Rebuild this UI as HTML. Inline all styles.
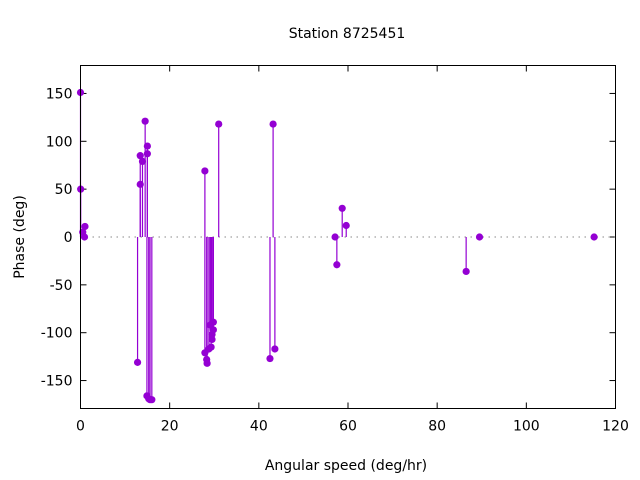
<!DOCTYPE html>
<html><head><meta charset="utf-8"><style>
body{margin:0;background:#fff}
svg{display:block;font-family:"DejaVu Sans","Liberation Sans",sans-serif}
</style></head><body>
<svg id="chart" width="640" height="480">
<text x="347" y="38" text-anchor="middle" font-size="14">Station 8725451</text>
<text x="346" y="470" text-anchor="middle" font-size="14">Angular speed (deg/hr)</text>
<text transform="translate(24,237) rotate(-90)" text-anchor="middle" font-size="14">Phase (deg)</text>
<g id="axes"></g><g id="marks"></g>
<rect x="80.5" y="65.5" width="535" height="343" fill="none" stroke="#000"/>
</svg>
<script>
const speeds=[0,0.04,1.0,0.5,0.9,12.8,13.4,13.4,13.9,14.5,15,15,14.9,15.3,16,15.6,27.9,31,27.9,28.4,28.3,28.8,29.3,29.5,29.1,29.8,29.8,29.5,42.5,43.2,43.6,57.1,57.5,58.7,59.6,86.5,89.5,115.2];
const phases=[151,50,11,5,0,-131,55,85,79,121,95,87,-166,-169,-170,-170,69,118,-121,-132,-128,-117,-115,-102,-92,-89,-97,-107,-127,118,-117,0,-29,30,12,-36,0,0];
const xTicks=[0,20,40,60,80,100,120];
const yTicks=[-150,-100,-50,0,50,100,150];
const L=80.5,R=615.5,T=65.5,B=408.5;
const xs=v=>L+(v-0)/120*(R-L);
const ys=v=>237-v*0.957;
const NS="http://www.w3.org/2000/svg";
const ax=document.getElementById('axes'),mk=document.getElementById('marks');
function mkEl(t,a,p){const e=document.createElementNS(NS,t);for(const k in a)e.setAttribute(k,a[k]);p.appendChild(e);return e;}
xTicks.forEach(v=>{const x=xs(v);
 mkEl('line',{x1:x,x2:x,y1:B,y2:B-6,stroke:'#000'},ax);
 mkEl('line',{x1:x,x2:x,y1:T,y2:T+6,stroke:'#000'},ax);
 const t=mkEl('text',{x:x,y:B+22,'text-anchor':'middle','font-size':14},ax);t.textContent=v;
 
 });
yTicks.forEach(v=>{const y=ys(v);
 mkEl('line',{x1:L,x2:L+6,y1:y,y2:y,stroke:'#000'},ax);
 mkEl('line',{x1:R,x2:R-6,y1:y,y2:y,stroke:'#000'},ax);
 const t=mkEl('text',{x:L-8,y:y+5,'text-anchor':'end','font-size':14},ax);t.textContent=v;
 
 });
const z=mkEl('line',{x1:L,x2:R,y1:ys(0),y2:ys(0),stroke:'#888','stroke-dasharray':'1.5,4.5'},ax);


speeds.forEach((s,i)=>{const x=xs(s),y=ys(phases[i]);
 const l=mkEl('line',{x1:x,x2:x,y1:ys(0),y2:y,stroke:'#9400d3','stroke-width':1.2},mk);
 
 
 const c=mkEl('circle',{cx:x,cy:y,r:3.6,fill:'#9400d3'},mk);
 
 });
</script>
</body></html>
